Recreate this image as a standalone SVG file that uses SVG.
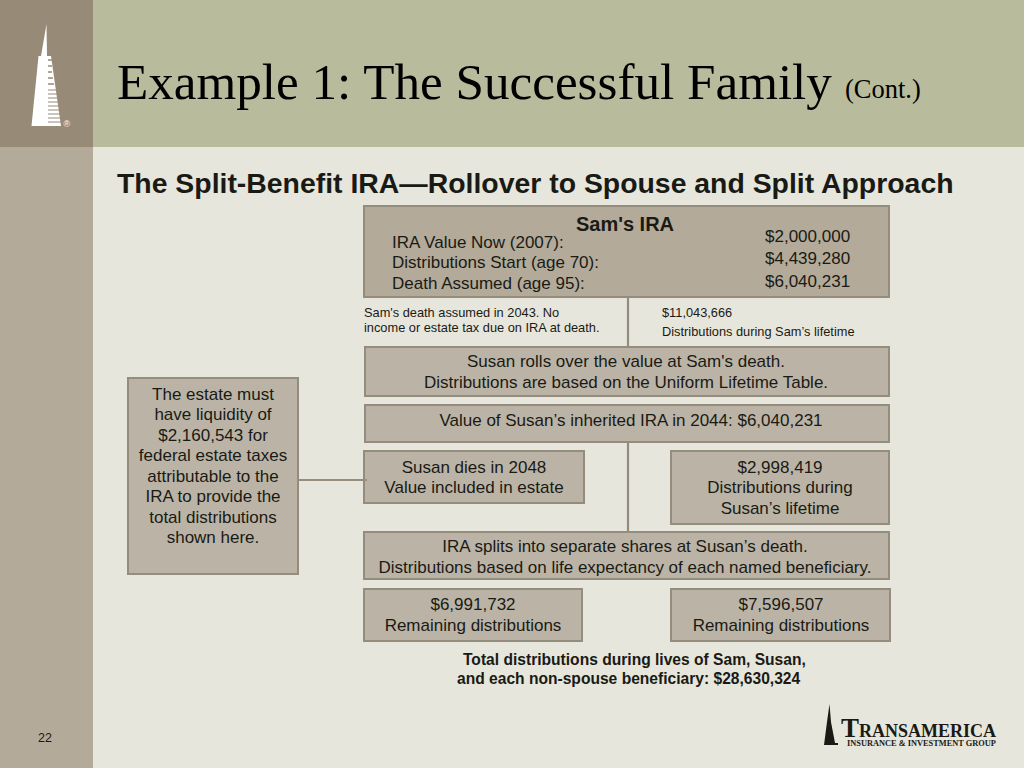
<svg xmlns="http://www.w3.org/2000/svg" width="1024" height="768" viewBox="0 0 1024 768">
<style>
text{font-family:"Liberation Sans",Arial,sans-serif;fill:#1a1a14}
.b{stroke:#948c7c;stroke-width:2}
.c{fill:#bbb4a6}
.m{text-anchor:middle;font-size:17px}
.l{font-size:17px}
.s{font-size:12.800px}
text.t{font-family:"Liberation Serif","Times New Roman",serif;fill:#000}
.bold{font-weight:bold}
.ln{stroke:#948c7c;stroke-width:2.200;fill:none}
</style>
<rect width="1024" height="768" fill="#e6e6dc"/>
<rect x="0" y="147" width="93" height="621" fill="#b3aa9a"/>
<rect x="93" y="0" width="931" height="147" fill="#b9bb9d"/>
<rect x="0" y="0" width="93" height="147" fill="#978a76"/>
<g id="logo-top">
<path d="M46.500 24L47 56H51L61 126H31.500L38.500 56H41Z" fill="#fff"/>
<path d="M48 90h13M48 94h13M48 98h13M48 102h13M48 106h13M48 110h13M48 114h14M48 118h14M48 122h14" stroke="#978a76" stroke-width="1.200"/>
<path d="M48 60h4M48 66h4M48 72h4M48 78h5M48 84h6" stroke="#978a76" stroke-width="1.500"/>
<text x="63.500" y="127" font-size="9" style="fill:#fff">®</text>
</g>
<text class="t" x="117" y="99" font-size="51.150">Example 1: The Successful Family</text>
<text class="t" x="845" y="98" font-size="26.500">(Cont.)</text>
<text class="bold" x="117" y="193" font-size="28.400">The Split-Benefit IRA—Rollover to Spouse and Split Approach</text>
<g id="sams-ira">
<rect class="b" x="364" y="206" width="525" height="91" fill="#b3aa9a"/>
<text class="bold" x="625" y="231" text-anchor="middle" font-size="20">Sam's IRA</text>
<text class="l" x="392" y="248">IRA Value Now (2007):</text>
<text class="l" x="392" y="268">Distributions Start (age 70):</text>
<text class="l" x="392" y="289">Death Assumed (age 95):</text>
<text class="l" x="765" y="242">$2,000,000</text>
<text class="l" x="765" y="264">$4,439,280</text>
<text class="l" x="765" y="287">$6,040,231</text>
</g>
<g id="note-left">
<text class="s" x="364" y="317">Sam's death assumed in 2043. No</text>
<text class="s" x="364" y="332">income or estate tax due on IRA at death.</text>
</g>
<g id="note-right">
<text class="s" x="662" y="317">$11,043,666</text>
<text class="s" x="662" y="336">Distributions during Sam’s lifetime</text>
</g>
<g id="rollover">
<rect class="b c" x="365" y="347" width="524" height="49"/>
<text class="m" x="626" y="367">Susan rolls over the value at Sam's death.</text>
<text class="m" x="626" y="388">Distributions are based on the Uniform Lifetime Table.</text>
</g>
<g id="inherited">
<rect class="b c" x="365" y="405" width="524" height="37"/>
<text class="m" x="631" y="426">Value of Susan’s inherited IRA in 2044: $6,040,231</text>
</g>
<g id="liquidity">
<rect class="b c" x="128" y="378" width="170" height="196"/>
<text class="m" x="213" y="400">The estate must</text>
<text class="m" x="213" y="420">have liquidity of</text>
<text class="m" x="213" y="441">$2,160,543 for</text>
<text class="m" x="213" y="461">federal estate taxes</text>
<text class="m" x="213" y="482">attributable to the</text>
<text class="m" x="213" y="502">IRA to provide the</text>
<text class="m" x="213" y="523">total distributions</text>
<text class="m" x="213" y="543">shown here.</text>
</g>
<g id="susan-dies">
<rect class="b c" x="364" y="451" width="220" height="52"/>
<text class="m" x="474" y="473">Susan dies in 2048</text>
<text class="m" x="474" y="493">Value included in estate</text>
</g>
<g id="susan-dist">
<rect class="b c" x="671" y="451" width="218" height="73"/>
<text class="m" x="780" y="473">$2,998,419</text>
<text class="m" x="780" y="493">Distributions during</text>
<text class="m" x="780" y="514">Susan’s lifetime</text>
</g>
<g id="splits">
<rect class="b c" x="364" y="532" width="525" height="47"/>
<text class="m" x="625" y="552">IRA splits into separate shares at Susan’s death.</text>
<text class="m" x="625" y="573">Distributions based on life expectancy of each named beneficiary.</text>
</g>
<g id="remaining-1">
<rect class="b c" x="364" y="589" width="218" height="52"/>
<text class="m" x="473" y="610">$6,991,732</text>
<text class="m" x="473" y="631">Remaining distributions</text>
</g>
<g id="remaining-2">
<rect class="b c" x="671" y="589" width="219" height="52"/>
<text class="m" x="781" y="610">$7,596,507</text>
<text class="m" x="781" y="631">Remaining distributions</text>
</g>
<g id="total">
<text class="bold" x="463" y="665" font-size="15.600">Total distributions during lives of Sam, Susan,</text>
<text class="bold" x="457" y="684" font-size="15.600">and each non-spouse beneficiary: $28,630,324</text>
</g>
<text x="38" y="742" font-size="12.500">22</text>
<g id="logo-bottom">
<path d="M829.500 704L831 722L835 743H838V745H824L827 722Z" fill="#1a1a14"/>
<text class="t" x="841" y="737" font-size="18" font-weight="bold" style="fill:#1a1a14"><tspan font-size="27">T</tspan>RANSAMERICA</text>
<text class="t" x="847" y="746" font-size="8.350" font-weight="bold" style="fill:#1a1a14">INSURANCE &amp; INVESTMENT GROUP</text>
</g>
<g id="connectors">
<path class="ln" d="M628 298V346M628 443V532M299 480H367"/>
</g>
</svg>
